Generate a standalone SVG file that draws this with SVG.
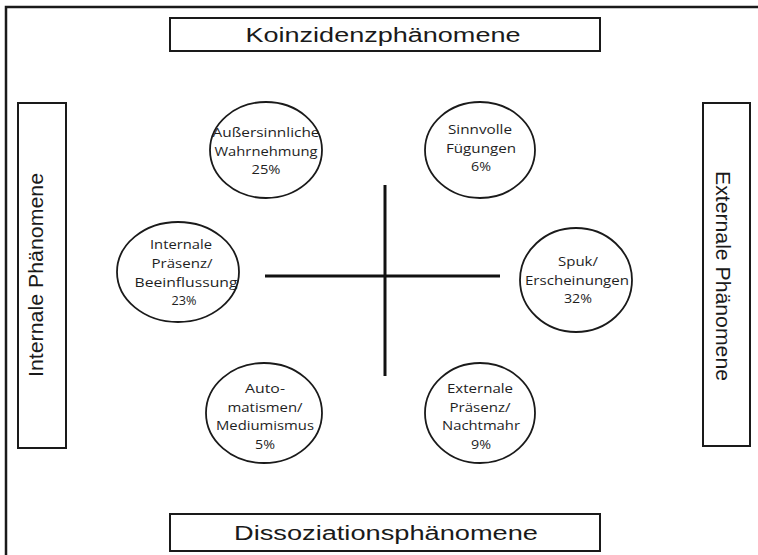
<svg xmlns="http://www.w3.org/2000/svg" width="758" height="555" viewBox="0 0 758 555">
<style>
.frame{fill:none;stroke:#1a1a1a;stroke-width:2.5}
.box{fill:#fff;stroke:#1a1a1a;stroke-width:2}
.ell{fill:#fff;stroke:#1a1a1a;stroke-width:1.8}
.ax{stroke:#111;stroke-width:3;fill:none}
.big{font-family:"Liberation Sans",Arial,sans-serif;font-size:20px;fill:#1a1a1a;text-anchor:middle}
.lab{font-family:"Open Sans","Liberation Sans",sans-serif;font-size:13.5px;fill:#1e1e1e;text-anchor:middle}
</style>
<rect width="758" height="555" fill="#fff"/>
<rect class="frame" x="6" y="7" width="760" height="560"/>
<g id="top"><rect class="box" x="170" y="18" width="430" height="33"/><text class="big" x="383" y="42" textLength="275" lengthAdjust="spacingAndGlyphs">Koinzidenzphänomene</text></g>
<g id="bottom"><rect class="box" x="170" y="514" width="430" height="37"/><text class="big" x="386" y="540" textLength="304" lengthAdjust="spacingAndGlyphs">Dissoziationsphänomene</text></g>
<g id="left"><rect class="box" x="18" y="103" width="48" height="345"/><text class="big" transform="translate(43,275) rotate(-90)" textLength="204" lengthAdjust="spacingAndGlyphs">Internale Phänomene</text></g>
<g id="right"><rect class="box" x="703" y="103" width="47" height="343"/><text class="big" transform="translate(716,276) rotate(90)" textLength="210" lengthAdjust="spacingAndGlyphs">Externale Phänomene</text></g>
<g id="connectors">
<line class="ax" x1="265" y1="276" x2="500" y2="276"/>
<line class="ax" x1="385" y1="185" x2="385" y2="376"/>
</g>
<g id="n1"><ellipse class="ell" cx="266" cy="150" rx="56" ry="48"/>
<text class="lab" x="266" y="137" textLength="107" lengthAdjust="spacingAndGlyphs">Außersinnliche</text><text class="lab" x="266" y="156" textLength="103" lengthAdjust="spacingAndGlyphs">Wahrnehmung</text><text class="lab" x="266" y="174" textLength="29" lengthAdjust="spacingAndGlyphs">25%</text></g>
<g id="n2"><ellipse class="ell" cx="480" cy="150" rx="55" ry="48"/>
<text class="lab" x="480" y="134" textLength="64" lengthAdjust="spacingAndGlyphs">Sinnvolle</text><text class="lab" x="481" y="153" textLength="70" lengthAdjust="spacingAndGlyphs">Fügungen</text><text class="lab" x="481" y="171" textLength="20" lengthAdjust="spacingAndGlyphs">6%</text></g>
<g id="n3"><ellipse class="ell" cx="178" cy="272" rx="61" ry="50"/>
<text class="lab" x="181" y="249" textLength="62" lengthAdjust="spacingAndGlyphs">Internale</text><text class="lab" x="182" y="268" textLength="61" lengthAdjust="spacingAndGlyphs">Präsenz/</text><text class="lab" x="186" y="287" textLength="103" lengthAdjust="spacingAndGlyphs">Beeinflussung</text><text class="lab" x="184" y="305" textLength="25" lengthAdjust="spacingAndGlyphs">23%</text></g>
<g id="n4"><ellipse class="ell" cx="576" cy="280" rx="56" ry="52"/>
<text class="lab" x="578" y="266" textLength="40" lengthAdjust="spacingAndGlyphs">Spuk/</text><text class="lab" x="577" y="285" textLength="104" lengthAdjust="spacingAndGlyphs">Erscheinungen</text><text class="lab" x="578" y="303" textLength="28" lengthAdjust="spacingAndGlyphs">32%</text></g>
<g id="n5"><ellipse class="ell" cx="264" cy="413" rx="58" ry="50"/>
<text class="lab" x="265" y="393" textLength="40" lengthAdjust="spacingAndGlyphs">Auto-</text><text class="lab" x="265" y="412" textLength="75" lengthAdjust="spacingAndGlyphs">matismen/</text><text class="lab" x="265" y="430" textLength="98" lengthAdjust="spacingAndGlyphs">Mediumismus</text><text class="lab" x="265" y="449" textLength="20" lengthAdjust="spacingAndGlyphs">5%</text></g>
<g id="n6"><ellipse class="ell" cx="480" cy="413" rx="55" ry="50"/>
<text class="lab" x="480" y="393" textLength="66" lengthAdjust="spacingAndGlyphs">Externale</text><text class="lab" x="480" y="412" textLength="61" lengthAdjust="spacingAndGlyphs">Präsenz/</text><text class="lab" x="481" y="430" textLength="78" lengthAdjust="spacingAndGlyphs">Nachtmahr</text><text class="lab" x="481" y="449" textLength="20" lengthAdjust="spacingAndGlyphs">9%</text></g>
</svg>
